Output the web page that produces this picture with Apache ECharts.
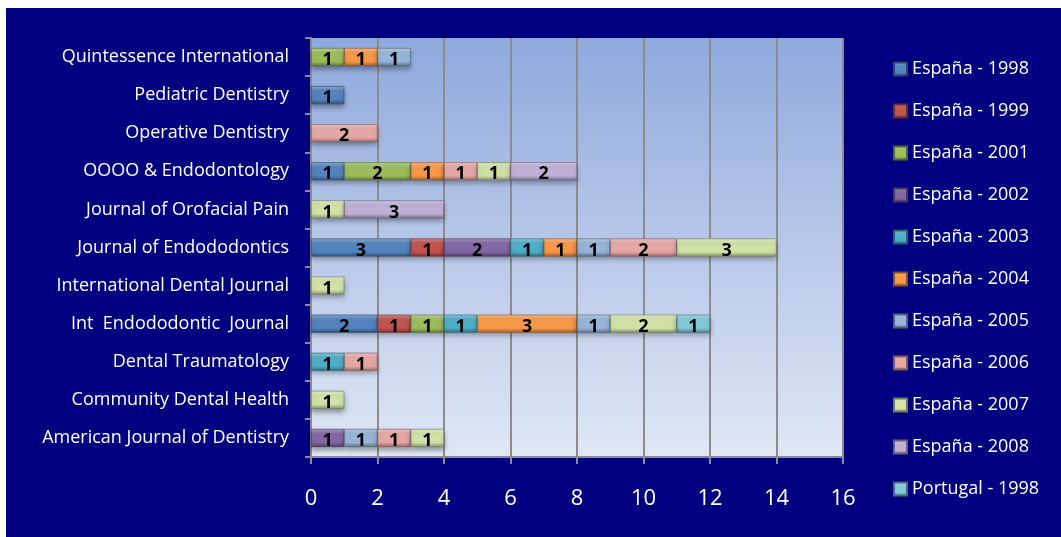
<!DOCTYPE html>
<html>
<head>
<meta charset="utf-8">
<script src="https://cdn.jsdelivr.net/npm/echarts@6/dist/echarts.min.js"></script>
<style>
  html, body { margin: 0; padding: 0; background: #fff; }
  #chart { width: 1061px; height: 537px; }
</style>
</head>
<body>
<div id="chart"></div>
<script>
// revistas, de abajo hacia arriba
const journals = [
  "American Journal of Dentistry", "Community Dental Health", "Dental Traumatology",
  "Int  Endododontic  Journal", "International Dental Journal", "Journal of Endododontics",
  "Journal of Orofacial Pain", "OOOO & Endodontology", "Operative Dentistry",
  "Pediatric Dentistry", "Quintessence International"
];
const seriesNames = [
  "España - 1998", "España - 1999", "España - 2001", "España - 2002", "España - 2003",
  "España - 2004", "España - 2005", "España - 2006", "España - 2007", "España - 2008",
  "Portugal - 1998"
];
const es1998 = [null, null, null, 2, null, 3, null, 1, null, 1, null];
const es1999 = [null, null, null, 1, null, 1, null, null, null, null, null];
const es2001 = [null, null, null, 1, null, null, null, 2, null, null, 1];
const es2002 = [1, null, null, null, null, 2, null, null, null, null, null];
const es2003 = [null, null, 1, 1, null, 1, null, null, null, null, null];
const es2004 = [null, null, null, 3, null, 1, null, 1, null, null, 1];
const es2005 = [1, null, null, 1, null, 1, null, null, null, null, 1];
const es2006 = [1, null, 1, null, null, 2, null, 1, 2, null, null];
const es2007 = [1, 1, null, 2, 1, 3, 1, 1, null, null, null];
const es2008 = [null, null, null, null, null, null, 3, 2, null, null, null];
const pt1998 = [null, null, null, 1, null, null, null, null, null, null, null];
const values = [es1998, es1999, es2001, es2002, es2003, es2004, es2005, es2006, es2007, es2008, pt1998];
const xTicks = [0, 2, 4, 6, 8, 10, 12, 14, 16];

const colors = ["#4f81bd", "#c0504d", "#9bbb59", "#8064a2", "#4bacc6", "#f79646",
                "#95b3d7", "#e6a5a3", "#d0e1a6", "#bfaed6", "#7fc6d8"];

function shade(hex, f) {
  const n = parseInt(hex.slice(1), 16);
  let r = n >> 16, g = (n >> 8) & 255, b = n & 255;
  const m = c => Math.max(0, Math.min(255, Math.round(f > 0 ? c + (255 - c) * f : c * (1 + f))));
  return `rgb(${m(r)},${m(g)},${m(b)})`;
}
const bevel = c => new echarts.graphic.LinearGradient(0, 0, 0, 1, [
  { offset: 0, color: shade(c, 0.35) },
  { offset: 0.25, color: shade(c, 0.05) },
  { offset: 0.75, color: c },
  { offset: 1, color: shade(c, -0.35) }
]);

const chart = echarts.init(document.getElementById("chart"));
chart.setOption({
  animation: false,
  graphic: [{
    type: "rect", z: -10, silent: true,
    shape: { x: 6, y: 8, width: 1055, height: 529 },
    style: { fill: "#000080" }
  }],
  grid: { left: 311, top: 38, right: 218, bottom: 80,
          show: true, borderWidth: 0,
          backgroundColor: new echarts.graphic.LinearGradient(0, 0, 0, 1, [
            { offset: 0, color: "#8fa9dd" }, { offset: 1, color: "#e0e7f5" }]) },
  legend: {
    orient: "vertical", left: 888, top: 55, itemGap: 24,
    itemWidth: 13, itemHeight: 13, icon: "rect",
    textStyle: { color: "#ffffff", fontSize: 18, fontFamily: "Open Sans" },
    data: seriesNames
  },
  xAxis: {
    type: "value", min: 0, max: 16, interval: 2,
    axisLine: { show: true, lineStyle: { color: "#8c8c8c", width: 2 } },
    axisTick: { show: true, length: 7, lineStyle: { color: "#8c8c8c", width: 2 } },
    splitLine: { show: true, lineStyle: { color: "#8c8c8c", width: 2 } },
    axisLabel: { color: "#ffffff", fontSize: 22, fontFamily: "Open Sans", margin: 31,
                 formatter: v => xTicks.includes(v) ? String(v) : "" }
  },
  yAxis: {
    type: "category", data: journals,
    axisLine: { show: true, lineStyle: { color: "#8c8c8c", width: 2 } },
    axisTick: { show: true, length: 6, lineStyle: { color: "#8c8c8c", width: 2 } },
    axisLabel: { color: "#ffffff", fontSize: 18, fontFamily: "Open Sans", margin: 22 }
  },
  series: seriesNames.map((name, i) => ({
    name, type: "bar", stack: "total", barWidth: 18,
    itemStyle: { color: bevel(colors[i]), borderColor: shade(colors[i], -0.45), borderWidth: 0.6,
                 shadowColor: "rgba(0,0,0,0.35)", shadowBlur: 5, shadowOffsetY: 3 },
    label: { show: true, position: "inside", color: "#000", fontWeight: "bold", fontSize: 18,
             fontFamily: "Open Sans", offset: [0, 3] },
    data: values[i]
  }))
});
</script>
</body>
</html>
